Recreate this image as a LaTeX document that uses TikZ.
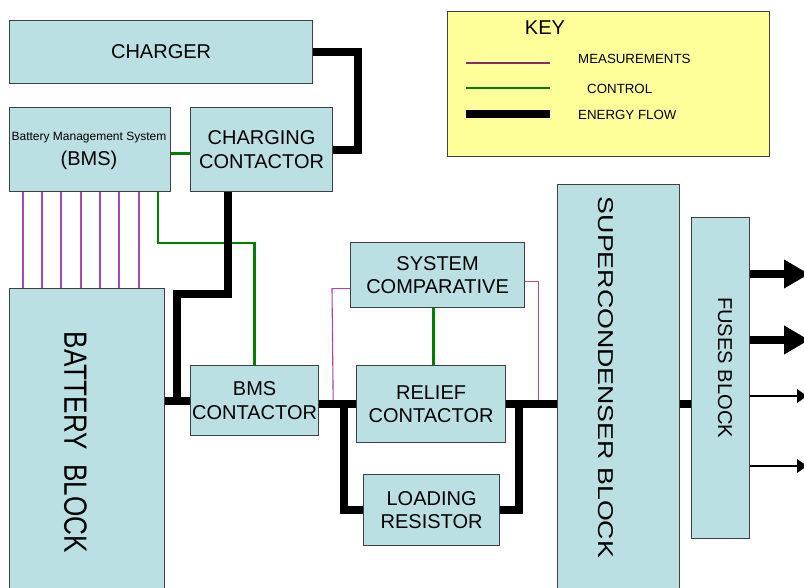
\documentclass[tikz,border=0pt]{standalone}
\usepackage{fontspec}
\setmainfont{Liberation Sans}
\usetikzlibrary{arrows.meta,calc}
\definecolor{boxfill}{RGB}{186,224,228}
\definecolor{keyfill}{RGB}{255,255,153}
\definecolor{edgec}{RGB}{64,64,64}
\definecolor{meas}{RGB}{168,72,172}
\definecolor{keymeas}{RGB}{140,40,110}
\definecolor{ctrl}{RGB}{0,128,0}
\begin{document}
\begin{tikzpicture}[x=1pt,y=-1pt,
  blk/.style={draw=edgec, line width=1.2pt, fill=boxfill, anchor=north west, inner sep=0pt,
    align=center, font=\fontsize{20}{23.5}\selectfont},
  keybox/.style={draw=edgec, line width=1.2pt, fill=keyfill, anchor=north west, inner sep=0pt},
  energy/.style={line width=8pt, black},
  ctrlw/.style={line width=2.5pt, ctrl},
  measw/.style={line width=1.1pt, meas},
  keylbl/.style={anchor=west, inner sep=0pt, font=\fontsize{13.3}{15}\selectfont},
  vtxt/.style={rotate=-90, inner sep=0pt}]
\path[use as bounding box] (0,0) rectangle (804,587);
\clip (0,0) rectangle (804,587);
\fill[white] (0,0) rectangle (804,587);

% boxes
\node[blk, minimum width=303pt, minimum height=63pt] (charger) at (9,20) {CHARGER};
\node[blk, minimum width=161pt, minimum height=84pt] (bms) at (9,107) {};
\node[anchor=base, inner sep=0pt, font=\fontsize{12}{14}\selectfont] (bmst1) at (89,140.7) {Battery Management System};
\node[anchor=base, inner sep=0pt, font=\fontsize{20}{24}\selectfont] (bmst2) at (89,165) {(BMS)};
\node[blk, minimum width=142pt, minimum height=84pt] (cc) at (190,107) {CHARGING\\CONTACTOR};
\node[blk, minimum width=155pt, minimum height=320pt] (bat) at (9,288) {};
\node[vtxt] (batt) at (75.5,442.5) {\resizebox{221pt}{22.5pt}{BATTERY\ \ BLOCK}};
\node[blk, minimum width=128pt, minimum height=70pt] (bmsc) at (190,365) {BMS\\CONTACTOR};
\node[blk, minimum width=174pt, minimum height=65pt] (sysc) at (350,242) {SYSTEM\\COMPARATIVE};
\node[blk, minimum width=149pt, minimum height=77pt] (relief) at (356,365) {RELIEF\\CONTACTOR};
\node[blk, minimum width=136pt, minimum height=71pt] (load) at (363,474) {LOADING\\RESISTOR};
\node[blk, minimum width=122pt, minimum height=420pt] (super) at (557,184) {};
\node[vtxt] (supert) at (605.5,377.5) {\resizebox{361pt}{15pt}{SUPERCONDENSER BLOCK}};
\node[blk, minimum width=58pt, minimum height=321pt] (fuses) at (691,217) {};
\node[vtxt] (fusest) at (725,367.5) {\resizebox{141pt}{14pt}{FUSES BLOCK}};

% key
\node[keybox, minimum width=322pt, minimum height=145pt] (key) at (447,11) {};
\node[font=\fontsize{20}{22}\selectfont] (keyt) at (545,28) {KEY};
\draw[keymeas, line width=1.2pt] ($(key.north west)+(19,52)$) -- ++(84,0);
\draw[ctrl, line width=2.5pt] ($(key.north west)+(19,77)$) -- ++(84,0);
\draw[black, line width=8pt] ($(key.north west)+(19,103)$) -- ++(84,0);
\node[keylbl] (lm) at (578,59) {MEASUREMENTS};
\node[keylbl] (lc) at (587,89) {CONTROL};
\node[keylbl] (le) at (578,115) {ENERGY FLOW};

% measurements
\foreach \dx in {14,33,52,72,91,110,130}
  \draw[measw] ($(bms.south west)+(\dx,0)$) -- ($(bat.north west)+(\dx,0)$);
\draw[measw] ($(sysc.west)+(0,13.5)$) -- ++(-18,0) -- ($(bmsc.east |- relief.west)+(14,0)$);
\draw[measw] ($(sysc.east)+(0,6.5)$) -- ++(13,0) -- ($(relief.east)+(32,0)$);

% control
\draw[ctrlw] ($(bms.east)+(0,4)$) -- ($(cc.west)+(0,4)$);
\draw[ctrlw] ($(bms.south east)+(-13,0)$) -- ++(0,51) -| (bmsc.north);
\draw[ctrlw] ($(sysc.south -| relief.north)+(2.5,0)$) -- ($(relief.north)+(2.5,0)$);

% energy
\draw[energy] (charger.east) -- ++(45,0) |- (cc.east);
\draw[energy] ($(cc.south west)+(38,0)$) -- ++(0,102) -| ($(bmsc.west)+(-13,0)$);
\draw[energy] (bat.east |- bmsc.west) -- (bmsc.west);
\draw[energy] (bmsc.east |- relief.west) -- (relief.west);
\draw[energy] (relief.east) -- (super.west |- relief.east);
\draw[energy] ($(bmsc.east |- relief.west)+(25,0)$) |- (load.west);
\draw[energy] (load.east) -| ($(relief.east)+(13,0)$);
\draw[energy] (super.east |- relief.east) -- (fuses.west |- relief.east);

% outputs
\draw[energy, -{Triangle[length=25pt,width=27pt]}] ($(fuses.north east)+(0,57)$) -- ++(59,0);
\draw[energy, -{Triangle[length=25pt,width=27pt]}] ($(fuses.north east)+(0,123)$) -- ++(59,0);
\draw[line width=2.5pt, -{Triangle[length=10pt,width=13pt]}] ($(fuses.north east)+(0,179)$) -- ++(57,0);
\draw[line width=2.5pt, -{Triangle[length=10pt,width=13pt]}] ($(fuses.north east)+(0,249)$) -- ++(57,0);
\end{tikzpicture}
\end{document}
